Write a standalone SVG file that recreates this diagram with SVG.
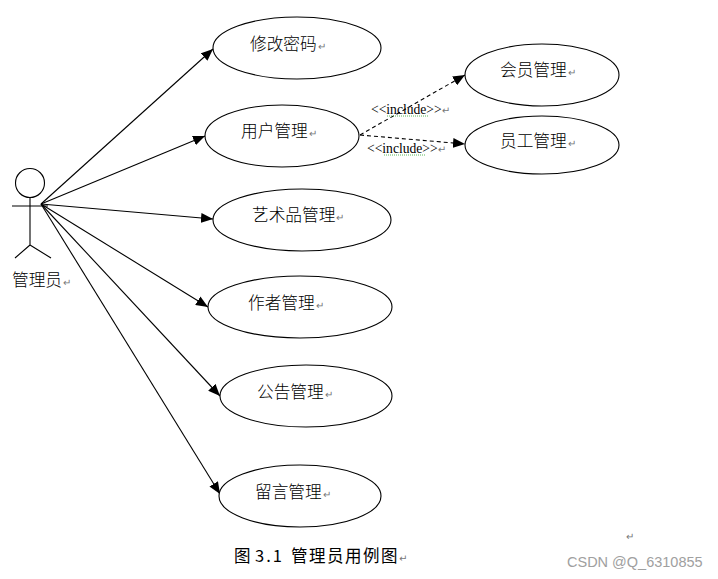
<svg xmlns="http://www.w3.org/2000/svg" width="718" height="579" viewBox="0 0 718 579">
<style>
text{font-family:"Noto Sans CJK SC","Liberation Sans",sans-serif;font-size:16.7px;font-weight:300;fill:#000}
.u{fill:#fff;stroke:#000;stroke-width:1.1}
.l{stroke:#000;stroke-width:1.1;fill:none}
.d{stroke-dasharray:4 3}
.r{font-size:10px;fill:#777;font-family:"DejaVu Sans",sans-serif}
.i{font-family:"Liberation Serif",serif;font-size:13.6px;font-weight:400}
.w{stroke:#5cb85c;stroke-width:1;fill:none;stroke-dasharray:1 1}
.c{font-size:16.5px;font-weight:400}
</style>
<defs>
<marker id="a" markerUnits="userSpaceOnUse" markerWidth="12" markerHeight="10" refX="12" refY="5" orient="auto"><path d="M0 0L12 5L0 10Z" fill="#000"/></marker>
</defs>
<g id="connectors">
<path class="l" marker-end="url(#a)" d="M41 204L213 49"/>
<path class="l" marker-end="url(#a)" d="M41 204L205 136"/>
<path class="l" marker-end="url(#a)" d="M41 204L213 219"/>
<path class="l" marker-end="url(#a)" d="M41 204L208 307"/>
<path class="l" marker-end="url(#a)" d="M41 204L220 396"/>
<path class="l" marker-end="url(#a)" d="M41 204L220 494"/>
<path class="l d" marker-end="url(#a)" d="M360 135L465 75"/>
<path class="l d" marker-end="url(#a)" d="M360 135L465 144"/>
</g>
<g id="actor">
<circle class="l" cx="30" cy="183" r="14.5"/>
<path class="l" d="M30 197V245M12 206H48M30 245L15 258M30 245L51 258"/>
<text x="12" y="286">管理员<tspan class="r" dx="1">↵</tspan></text>
</g>
<g id="n1"><ellipse class="u" cx="297" cy="48" rx="84" ry="31"/><text x="250" y="50">修改密码<tspan class="r" dx="1">↵</tspan></text></g>
<g id="n2"><ellipse class="u" cx="282" cy="136" rx="77" ry="31"/><text x="241" y="137">用户管理<tspan class="r" dx="1">↵</tspan></text></g>
<g id="n3"><ellipse class="u" cx="302" cy="220" rx="89" ry="31"/><text x="252" y="221">艺术品管理<tspan class="r" dx="1">↵</tspan></text></g>
<g id="n4"><ellipse class="u" cx="300" cy="307" rx="92" ry="31"/><text x="248" y="309">作者管理<tspan class="r" dx="1">↵</tspan></text></g>
<g id="n5"><ellipse class="u" cx="306" cy="396" rx="86" ry="31"/><text x="257" y="398">公告管理<tspan class="r" dx="1">↵</tspan></text></g>
<g id="n6"><ellipse class="u" cx="300" cy="496" rx="81" ry="31"/><text x="255" y="498">留言管理<tspan class="r" dx="1">↵</tspan></text></g>
<g id="n7"><ellipse class="u" cx="542" cy="75" rx="77" ry="31"/><text x="500" y="76">会员管理<tspan class="r" dx="1">↵</tspan></text></g>
<g id="n8"><ellipse class="u" cx="542" cy="145" rx="77" ry="29"/><text x="500" y="147">员工管理<tspan class="r" dx="1">↵</tspan></text></g>
<g id="labels">
<path class="w" d="M387 116H429M384 155H426"/>
<text class="i" x="371" y="114">&lt;&lt;include&gt;&gt;<tspan class="r">↵</tspan></text>
<text class="i" x="367" y="153">&lt;&lt;include&gt;&gt;<tspan class="r">↵</tspan></text>
<text class="r" x="626" y="540">↵</text>
<text class="c" x="234" y="562">图<tspan x="255" style="letter-spacing:2px">3.1</tspan><tspan x="291" style="letter-spacing:1.5px">管理员用例图</tspan><tspan class="r">↵</tspan></text>
<text x="567" y="567" style="font-family:'Liberation Sans',sans-serif;font-size:14.5px;font-weight:400;fill:#a0a0a0">CSDN @Q_6310855</text>
</g>
</svg>
